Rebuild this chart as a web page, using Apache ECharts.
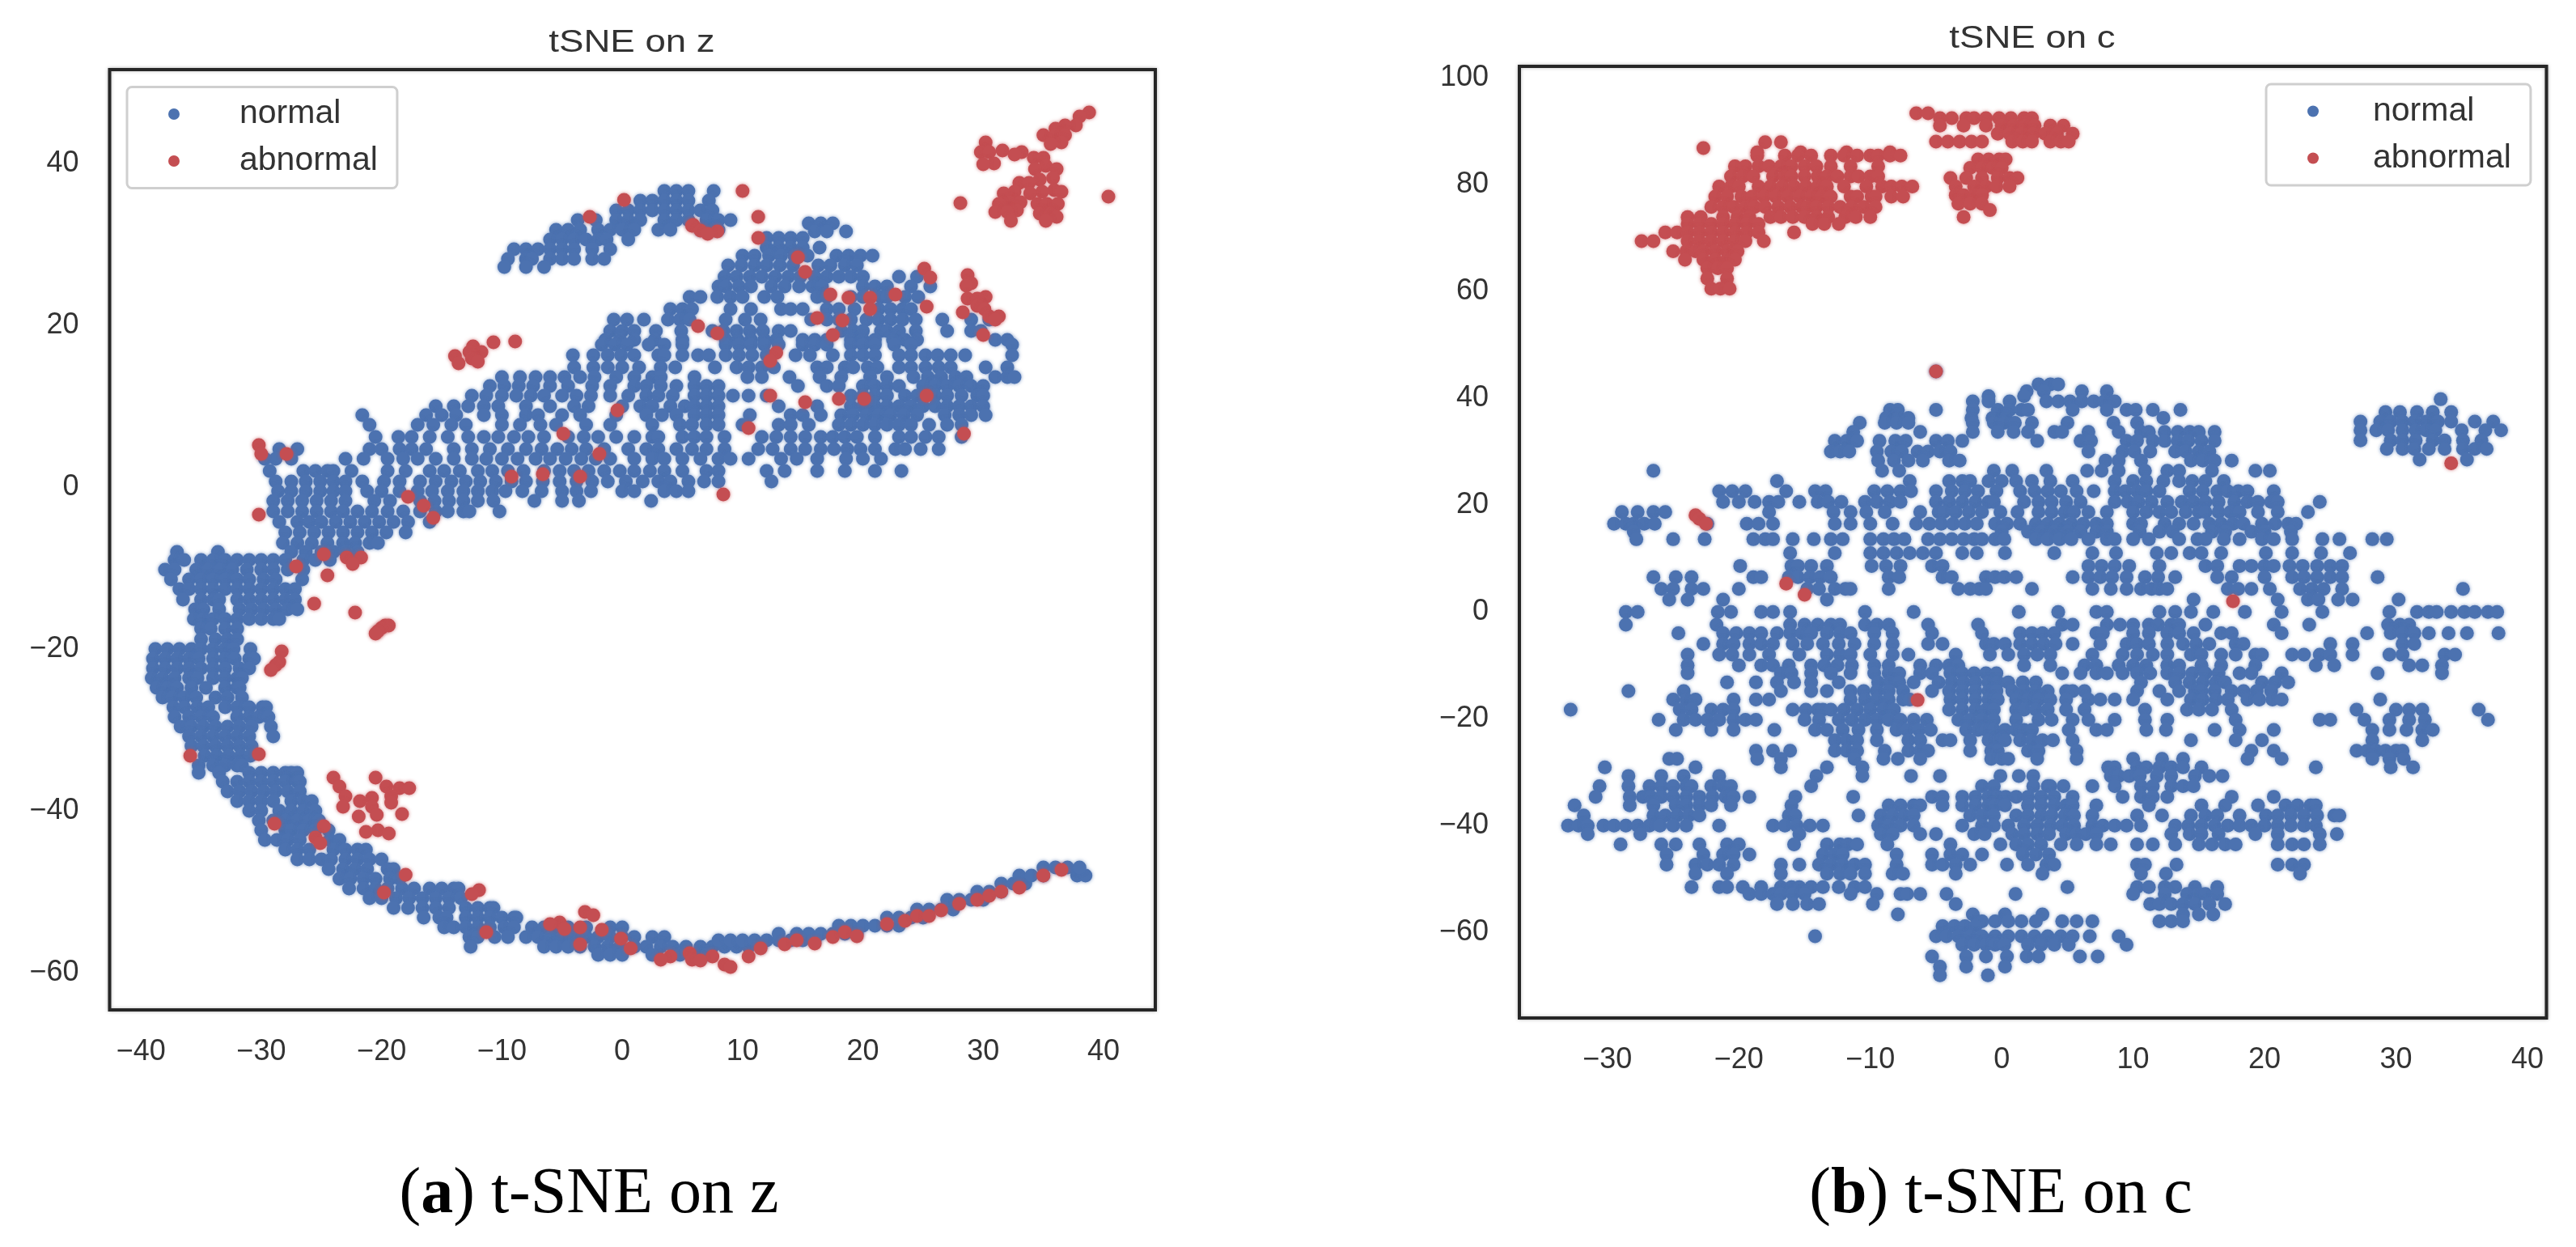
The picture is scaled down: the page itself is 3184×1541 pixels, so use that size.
<!DOCTYPE html>
<html>
<head>
<meta charset="utf-8">
<script src="https://cdn.jsdelivr.net/npm/echarts@6/dist/echarts.min.js"></script>
<style>html,body{margin:0;padding:0;background:#fff}#c{width:3184px;height:1541px}</style>
</head>
<body>
<div id="c"></div>
<script>
const seriesNames = ['normal', 'abnormal'];
const zXTicks = [-40, -30, -20, -10, 0, 10, 20, 30, 40];
const zYTicks = [-60, -40, -20, 0, 20, 40];
const cXTicks = [-30, -20, -10, 0, 10, 20, 30, 40];
const cYTicks = [-60, -40, -20, 0, 20, 40, 60, 80, 100];

// Each row: the y value first, then the x values of the points sitting at that y.
const zNormalRows = [
[36.6,3.5,4.5,5.5,7.6],[35.4,1.5,2.5,3.5,4.5,5.5,7.2],[34.2,-0.5,0.5,1.5,2.5,3.5,4.5,5.5,6.5,7.5],
[33,-3.7,-2.2,-0.5,0.5,1.5,3.5,4.5,5.5,7,8,9],[31.8,-5.5,-4.5,-3.5,-2,-1,0,1,3,4,6.5,7.5,8],
[30.6,-6,-5,-4,-3,-2,-1.3,0.5],[29.4,-9,-8,-7,-6,-5,-4,-2.5,-1],[28.2,-9.5,-8,-7.5,-6,-5,-4,-2.5,-1.5],[27.2,-9.8,-8,-6.5],
[32.6,15.5,16.5,17.5],[31.6,16,17,18.6],[30.8,12,13,14,15],[29.6,12,13,14,15,16.4],
[28.6,10,11,12.2,13.2,14.3,15.4,17.8,18.8,19.8,20.8],[27.4,8.8,9.9,11,12,13.1,14.2,16.3,17.3,18.5,19.5],
[26,8.5,9.5,10.6,11.6,12.7,13.8,14.8,16,17,18,19,20,23,24.5],[24.8,8,8.6,9.7,10.7,12.4,13.5,14.7,15.8,16.6,20,21,22,24,25.6],
[23.5,5.6,6.5,7.9,9,10,11.8,12.9,16.2,17,19,20,21.5,22,23.5,24.6],[22,4,5,5.8,9,10.7,13.2,14,15,17,18,19.3,21.3,22.3,23.3,24],
[20.7,-0.7,0.4,1.8,3.8,4.8,5.6,8.6,10.2,11.5,15.7,17,18,19,20.3,21.3,22.3,23.3,24.4,26.6,29,30.5],
[19.3,-1,0,1,2.8,4.9,7.5,8.4,9.5,10.6,11.7,13,14,18.2,19.2,20,21.5,22,23,24.4,27,29,29.8],
[18.2,-1.4,-0.2,1,2.7,5,8.6,9.6,10.7,11.8,12.8,15,16,17,19,20,21,22.5,23.5,24.5,31,32],
[17.6,-1.7,-0.6,0.4,2.2,3.5,5,8.6,9.7,10.7,11.8,13,15,16,17,19,20,21,22.6,24,32.4],
[16.3,-4.1,-2.4,-1.2,-0.1,1,3,3.5,5,6.3,7.2,8.6,9.7,10.8,12,14.4,15.6,17.5,19,20,21,23,24,25.2,26.2,27.3,28.5,32.4],
[14.8,-4,-2.4,-1.2,0,1.4,3.2,4.4,7.7,9.5,10.5,11.6,12.6,16.2,17,18.5,19.2,20.4,21.2,23,24,25.2,26.3,27.3,30.2,32],
[13.6,-10,-8.5,-7.2,-6,-4.8,-3.5,-2.3,-0.5,1,2.5,3.2,6,10.4,11.6,13.9,16.4,18.2,20.6,22,24.2,25.4,26.5,27.7,28.6,31,32,32.6],
[12.5,-11,-9.8,-8.6,-7.4,-6,-4.5,-2.5,-1,1,2,3.2,4.5,6,7,8,14.6,17,18,20,21,22,23,25,26,27,28,29,30],
[11.3,-12.5,-11.3,-10,-8.8,-7.6,-6.5,-5,-3.8,-2.6,-1,0.5,2,3,4.2,6,7,8,9.2,10.5,12,19,20,21,22,23.5,24.5,26,27,28.2,29.5,30],
[10,-15.5,-14,-12.8,-11.5,-10.3,-8,-6,-4,-2.8,0,1.5,2.5,4,5.2,6,7,8,13,16.2,19,20,21,22,23,24,25,26,27,28,29,30],
[8.9,-21.6,-16.3,-15,-13.8,-11.5,-10,-8,-7,-5,-3.5,-0.5,2,3.3,4.5,6,7,8,10.6,14,15,16.5,18.2,19.2,20.3,21.3,22.3,23.4,24.5,26.8,28,29,30.2],
[7.7,-21,-17,-15.7,-14.2,-13,-10,-8.5,-6.8,-5.5,-3,-1,2.5,4.8,5.8,7,8,10,13,14,15.5,18,19,20,21,22,23,24,25.5,27,28.2],
[6.2,-20.5,-18.6,-17.5,-16,-14.5,-12.8,-11.5,-10.3,-9,-7.8,-6.5,-4.5,-3.2,-2,-0.5,1,2.5,3,5,6,7,8.5,11.6,12.8,14,15.2,16.5,17.5,18.5,19.5,21,23,24,25.2,26.3,28.2],
[4.7,-28.5,-27,-21,-20,-18.5,-17.5,-16.3,-14,-12.5,-11,-9.5,-8,-6.7,-5.4,-4.2,-3,-1.5,0.5,2,3,4.5,5.8,7,8.5,11.3,12.5,14,15.2,16.5,17.6,18.7,19.8,21,22.7,23.5,24.8,26.3],
[3.5,-29.7,-28.8,-27.5,-23,-21.5,-19.5,-18.2,-17,-15.5,-14,-12.5,-11.3,-10,-8.7,-7.2,-6,-4.7,-3.4,-2.2,-1,1,2.5,3.5,5,6.5,8,9,10.5,13.2,14.5,16.2,18.6,20,21.5],
[2,-29.3,-26.5,-25.5,-24.5,-24,-22.5,-19.5,-18,-16,-14.8,-13.5,-12,-10.8,-9.5,-8.2,-6.5,-5.2,-4,-2.8,-1.5,-0.2,1,2.3,3.5,5,7,8,12,13.5,16.2,18.5,21,23.2],
[0.7,-28.8,-27.5,-26.3,-25.1,-24,-23,-21.6,-19.8,-18.5,-16.8,-15.5,-14.2,-13,-11.8,-10.5,-9.2,-8,-6.6,-5.2,-3.8,-2.5,-1.2,0.3,1.7,3,4,5.5,6.8,8,12.4],
[-0.5,-28.6,-27.5,-26.3,-25.1,-24,-23,-21.2,-20,-18.5,-17,-15.8,-14.5,-13.2,-12,-10.8,-9.7,-8.3,-6.7,-5,-3.8,-2.6,0,1,3.5,4.5,5.5],
[-1.7,-29,-27.8,-26.6,-25.4,-24.2,-23,-20.6,-19.3,-16.8,-15.6,-14.4,-13.2,-12,-10.7,-7.3,-5,-3.6,2.4],
[-3,-29,-27.8,-26.6,-25.4,-24.2,-23.2,-22,-20.8,-19.5,-18.2,-16.8,-15.5,-14.5,-13.2,-12.7,-10.2],
[-4.3,-28.5,-27,-26,-25,-23.8,-22.6,-21.4,-20.2,-19,-17.8,-16],[-5.6,-28,-26.8,-25.6,-24.4,-23.2,-22,-20.8,-19.6,-18],
[-6.9,-28.2,-27,-25.8,-24.5,-23.2,-22.2,-21,-20.3],[-8,-37,-33.6,-27.5,-26.3,-25,-24,-23,-22],
[-9,-37.2,-36.4,-35,-34,-33,-32,-31,-30,-29,-28,-26.5,-25.5,-24.3],[-10.2,-38,-37.2,-35.4,-34.4,-33.4,-32.4,-31.2,-30,-29,-27.8,-26.5],
[-11.4,-37.5,-36,-35,-34,-33,-32,-31,-29.8,-28.8,-26.6],[-12.6,-36.8,-36,-35,-34,-33,-32,-31,-30,-29,-28,-27.2],
[-13.9,-36.5,-35,-34,-33.5,-32,-31,-30,-29,-28,-27.2],[-15.1,-35.5,-34.8,-33.5,-31.8,-30.8,-29.8,-28.8,-27.8,-27],
[-16.3,-35.6,-34.8,-34,-33,-32,-31,-30,-29,-28.5],[-17.5,-35,-34.2,-33,-32],[-18.8,-35,-33.8,-32.8,-32],
[-20,-38.8,-37.8,-36.8,-35.8,-35,-34,-33,-32.3,-30.9],[-21.2,-39,-38,-37,-36,-35.2,-34,-33,-32.2,-31,-30.6],
[-22.4,-39,-38,-37,-36,-35,-34,-33,-31.8,-31],[-23.6,-39.1,-38.2,-37.2,-36,-35.3,-34,-33,-32,-31.6],
[-24.8,-38.7,-37.8,-37,-35.8,-34.6,-33,-32,-31.8],[-26,-38.2,-37.4,-36.4,-35.4,-33.8,-32.8,-31.6],
[-27.2,-37.3,-36.4,-35.3,-34.4,-33,-32,-31,-29.9,-29.6],[-28.4,-37.2,-36,-35,-34,-32,-31,-30.2,-29.4],
[-29.6,-36.7,-35.8,-34.8,-33.8,-32.8,-31.8,-30.8,-29.2],[-30.8,-36,-35,-34,-33,-32,-31,-29],[-32,-35.8,-34.8,-33.8,-32.8,-31.8,-30.8],
[-33.2,-34.7,-33.7,-32.7,-31.7,-30.9],[-34.4,-35.2,-34,-33,-32,-31.6],[-35.3,-35.2,-33.5,-31,-30,-29,-28,-27.5,-27],
[-36.4,-33.2,-32,-31,-30,-29,-28,-27,-26.8],[-37.6,-32.8,-31.8,-30.8,-29.8,-28.8,-27.8,-26.8],[-38.8,-32,-31,-30,-29,-27.5,-26.5,-25.8],
[-40,-31,-30,-28.5,-27.5,-26.5,-25.5],[-41.2,-30.2,-29,-28,-27,-26,-25.2],[-42.4,-30,-28,-27.5,-26.5,-25.5,-24.4],
[-43.6,-29.7,-28.7,-27.8,-26.8,-24.3,-23.5],[-44.8,-28,-27,-26,-24,-23,-22,-21.3],[-46,-27,-26,-25,-24.2,-23,-22,-21,-20],
[-47.2,-24.4,-23.2,-22.2,-21.2,-19.5,-19],[-48.4,-23.5,-22.6,-21.5,-20.5,-19.3,-18.5],
[-49.6,-22.7,-21.5,-20.5,-19.5,-18.3,-17.3,-16,-15,-14,-13.6],[-50.8,-21,-20,-18.8,-17.7,-16.6,-15.5,-14.4,-13.4],
[-52,-19,-17.8,-16.6,-15.5,-14.4,-13,-12,-11,-10.7],[-53.2,-16.5,-15.2,-14.6,-13,-12,-11,-10,-9,-8.8],
[-54.4,-14.8,-14,-13,-12,-11,-9.8,-9,-7.5,-6.5,-5.5,-4.5,-3,-1,0],
[-55.6,-12.7,-12,-10.6,-9.5,-8,-7,-6,-5,-4,-3,-2,-1,0,1,2.5,3.5],
[-56.8,-12.6,-6.5,-5.5,-4.5,-3.5,-2.3,-1.2,-0.2,1,2,3.2,4.2,5.3,6.5,7.5,8.5,9.5,10.5,11.5],[-57.8,-2,-1,0,2.5,4.8,6,7],
[-56,8,9,10,11,12,13,14,15,16],[-55.2,13,14.5,15.5,16.5,17.5,18.5,19.5],[-54.2,18,19,20,21,22,23],[-53.2,22,23,24,25],
[-52.2,24.5,25.5,26.5,27.5],[-51,27,28,29,30],[-50,29.5,30.5,31.5],[-49,31.5,32.5,33.5],[-48,33,34,35,37.8,38.5],[-47,35,36,37,38]
];

const zAbnormalRows = [
[46.3,38.8],[45.8,38],[44.7,37.7,36.8],[44.3,36],[43.5,35,36,36.8],[42.6,30.2,36.5],[42.4,35.6],[41.6,31.6],[41.4,29.8,30.5,33.2],[41.1,32.6],
[40.7,34.2,35],[40,30.9],[39.9,30],[39.7,35.2],[39.3,34.3,36.1],[38.2,35.8],[38,34.7],[37.6,33,33.8],[36.7,35.9],[36.6,10],[36.5,32.6,34.9,36.5],
[36.3,31.7,33.9],[35.9,40.4],[35.5,0.15],[35.2,32.2,33.1],[35.1,28.1],[35,31.3,34.5,35.3,36.2],[34.2,32.8],[34,31,32],[33.8,34.7,35.6],[33.4,-2.7,11.3,36.1],
[32.9,32.3,35.2],[32.4,5.9],[32.3,5.8],[31.7,6.5],[31.6,7.9],[31.3,7.1],[30.8,11.3],[28.4,14.6],[27,25.1],[26.6,15.2],[26.2,28.7],[25.9,25.6],[25.2,29],[24.9,28.6],
[23.8,17.3,22.7],[23.5,30.2],[23.4,18.8,20.6],[23.3,28.7,29.5],[22.4,29.5],[22.3,25.3],[22,20.6,30.1],[21.6,28.3],[21.1,30.5,31.3],[20.9,16.2],[20.7,31],[20.6,18.3],
[19.9,6.3],[19,7.9],[18.8,17.5,30],[18,-8.9],[17.9,-10.7],[17.4,-12.4],[16.7,-11.7,-12.7],[16.6,12.8],[16.2,-13.9],[15.9,-12.5],[15.6,12.3],[15.5,-12],[15.3,-13.6],
[11.3,12.3,25.3],[10.9,18,20.1],[10.5,15.2],[9.5,-0.4],[7.3,10.5],[6.6,-4.9,28.4],[5.2,-30.2],[4.1,-30,-27.9,-1.9],[1.6,-6.6],[1.3,-9.2,-3.5],[-0.9,8.4],[-1.2,-17.8],[-2.3,-16.5],
[-3.4,-30.2],[-3.8,-15.7],[-8.3,-24.8],[-8.7,-22.9,-21.7],[-9.5,-22.4],[-9.8,-27.1],[-10.9,-24.5],[-14.4,-25.6],[-15.5,-22.2],[-17.1,-19.7,-19.4],[-17.4,-20],[-17.8,-20.3],[-18.1,-20.5],
[-20.3,-28.3],[-21.6,-28.5],[-22,-28.8],[-22.6,-29.2],[-33,-30.2],[-33.2,-35.9],[-35.9,-24,-20.5],[-37,-23.5,-19.6],[-37.2,-18.5,-17.7],[-38.2,-23,-19.2],[-38.4,-20.8],[-38.8,-21.8],
[-39,-19.2],[-39.5,-23.2,-20.8],[-40.4,-18.3],[-40.5,-20.4],[-40.7,-21.9],[-41.6,-28.9],[-41.9,-24.8],[-42.4,-20.3],[-42.6,-21.3],[-42.8,-19.4],[-43.3,-25.5],[-44,-25.1],
[-47.9,-18],[-49.8,-11.9],[-50.1,-19.8],[-50.3,-12.5],[-52.5,-3.1],[-52.9,-2.4],[-53.8,-5.2],[-54,-6],[-54.4,-3.5],[-54.6,-4.8],[-54.7,-1.7],[-55,-11.3],[-55.8,-0.1],[-56.5,-3.5],
[-57,0.7],[-57.6,5.6],[-58,4,7.5,10.5],[-58.4,3.2,5.8],[-58.5,6.5],[-59,8.5],[-59.3,9],[-57,11.5],[-56.5,13.5],[-56,14.5],[-56.4,16],[-55.6,17.5],[-55,18.5],[-55.5,19.5],[-54,22],
[-53.6,23.5],[-53,24.5,25.5],[-52.3,26.5],[-51.5,28],[-51,29.5],[-50.5,30.5],[-50,31.5],[-49.5,33],[-48,35],[-47.3,36.5]
];

const cNormalRows = [
[45,-5],[42.6,2.8,3.7,4.3],[41.3,1.9,3.2,6.1,8],[40.4,-1,1.7],[39.4,-2.2,-1,0.6,3.4,4.3,5.2,6.1,7,7.8,8.6],
[37.8,-8.5,-7.9,-5,-2.2,-0.3,0.6,1.5,2,5.4,8,9.5,10.2,11.5,13.6],[36.3,-8.8,-7.9,-7.1,-2.3,-0.7,0.3,12.3],
[35.4,-10.8,-8.9,-8,-7.1,-2.2,-0.6,0.2,1,2.3,5,8.5,10.3],[33.7,-11.3,-6.2,-2.2,-0.3,0.9,2,4,4.6,6.6,8.9,10.6,11.2,12.4,13.4,14.3,15,16.2],
[32,-12.7,-11.8,-11,-9.3,-8.1,-7.3,-5,-4.1,-3,2.7,6,6.8,9.5,10.3,11.5,12.4,13.4,14.2,15.2,16.2],
[30,-13,-12.3,-11.6,-9.5,-8.4,-7.6,-6.4,-5.6,-4.7,-3.9,6.6,9.2,10.1,11.3,13.2,14,15,15.8],
[28.3,-9.4,-8.2,-7.1,-6,-4,-3.2,7.9,8.9,10.6,14.4,15.3,16.2,17.5],
[26.4,-26.5,-9.1,-7.8,-0.6,0.8,3.4,6.5,7.6,8.9,10.9,12.6,13.5,16,19.3,20.4],
[24.5,-17.1,-7,-4,-3,-2.4,-1,0,1.1,2.3,3.7,5.4,8.6,10,11,12.3,13.5,14.5,15.5,16.9],
[22.6,-21.5,-20.5,-19.5,-16.4,-14.2,-13.4,-9.7,-8.7,-7.7,-6.9,-5,-3.8,-2.8,-1.8,-0.4,1.4,2.5,3.5,4.5,5.7,7,8.6,9.4,10.3,11,12,14.3,15.3,16.4,17.2,18,18.7,20.7],
[20.6,-21.2,-20,-18.8,-17.7,-17,-15.4,-14,-13.2,-12.2,-10.4,-9.5,-8.5,-7.7,-5,-4,-3,-2,-1,-0.6,1.7,2.8,3.8,4.9,6,8.6,9.6,10.4,11.4,12.6,13.7,14.6,15.5,16.5,17.7,18.7,19.5,20.5,21,24.2],
[18.7,-28.9,-27.7,-26.5,-25.6,-17.7,-12.8,-11.5,-10.3,-8.9,-6.2,-4.8,-4.4,-3.5,-2.5,-1.5,-0.1,1.2,2.8,3.8,4.8,5.5,6.6,8,10,11,12,12.9,14,15,15.5,16.5,17.4,18.1,19.5,21,23.3],
[16.5,-29.5,-28.6,-28,-27.2,-26.4,-22.4,-19.4,-18.5,-17.4,-12.7,-11.5,-10,-8.3,-6.5,-5.5,-4.6,-3.7,-2.8,-1.9,-0.5,0.4,1.4,2.6,3.5,4.4,5.3,6.2,7.2,8,10,10.6,12.4,13.5,14.6,15.8,16.7,17.6,18.4,19.8,20.8,21.8,22.4],
[15,-28,0,2,3,4,5,6,7.2,8,10.5,12,13,16,17,19,20,22],
[13.6,-27.8,-25,-22.6,-18.9,-18,-17.4,-15.9,-14.3,-13,-12.1,-10,-9,-8.2,-7.4,-5.6,-4.7,-3.8,-2.9,-2.1,-1.5,-0.5,0.2,2.6,3.5,4.4,5.3,6.6,8,8.6,10,11.2,13.5,14.9,15.5,16.9,18.1,19.8,20.7,22.1,24.4,25.7,28.2,29.3],
[11,-16.1,-12.7,-10,-9,-8,-7,-6,-5,-3,-1.9,0.25,4,6.9,8.7,11.8,12.9,14.3,15.2,16.7,20.1,22.1,24.3,26.5],
[8.6,-19.9,-16,-15.5,-14.5,-13.3,-9.9,-8.8,-7.7,-5.3,-4.5,6.6,7.6,8.6,9.7,12,15.5,16.4,18.1,19,20,20.7,21.9,22.9,24,25,25.9],
[6.5,-26.5,-24.8,-23.6,-18.9,-18.3,-16.2,-15.5,-14.6,-13.8,-13,-8.6,-7.8,-4.5,-3.8,-1.2,-0.5,0.2,1.1,5.4,6.6,7.5,8.4,9.5,10.9,11.9,13.2,16.4,17.5,20,22.1,23,24,25,25.9,28.6],
[4.3,-25.9,-25,-23.6,-22.7,-20,-14.8,-13.9,-12.7,-11.9,-11.5,-8.6,-3.3,-2.4,-1.7,-1.2,2.3,6.9,8.3,9.5,10.6,11.4,12,12.6,17.2,18,19,20.4,22.7,23.6,24.5,25.9,35.1],
[2.3,-25.3,-23.9,-21.2,-13.3,14.6,21,23.3,24.1,25.6,26.7,30.2],
[37.4,32.8,34.2,29.2,30.3,31.6],[39.8,33.4],[35.6,27.3,28.8,29.6,30.5,31.4,32.3,33.2,34.2,36,37.4],[34,27.3,28.5,29.4,30.5,31.5,32.3,33,35,36.8,38],
[32.1,27.3,29.6,30.5,31.5,32.8,33.7,35.1,36.5],[30.5,29.3,30.5,31.4,32.5,33.7,35.1,36,36.9],[28.5,31.8,35.4],
[0,-28.6,-27.7,-21.6,-20.6,-18.3,-17.4,-16.1,-10.4,-6.7,1.3,4.3,7.2,8,12,13.2,14.4,16.1,18.5,21.3,24.4,29.5,31.6,32.5,33.1,34.2,35.2,36,37,37.7],
[-2.4,-28.6,-21.7,-16.1,-15,-14,-13,-12.3,-10.4,-9.5,-8.6,-5.6,-1.8,4.6,5.4,8,9,10,11.2,11.9,12.9,13.5,15.5,20.7,23.4,29.4,30.3,31],
[-4,-24.6,-21.2,-20.2,-19.2,-18.3,-17.1,-16.1,-15.2,-14.5,-13.3,-12.3,-11.5,-9.7,-8.3,-5.3,-1.5,1.4,2.3,3.1,4,7.2,7.7,10,11.2,12.6,13.5,14.6,16.7,17.5,21.3,27.8,29.6,30.5,31.4,32.5,34,35.4,37.8],
[-6,-22.7,-21.2,-20.4,-19.2,-18.3,-17.4,-15.9,-14.8,-13.6,-12.4,-11.2,-9.7,-8.3,-5.6,-4.5,-1.2,-0.6,0.25,1.4,2.3,3.2,4.1,5.4,7.5,9.5,10.3,11.2,12.6,13.8,14.8,15.8,17.8,18.4,25,26.7,30.5,31.4],
[-8,-23.9,-21.5,-20.5,-19.2,-17.7,-15.4,-13.3,-12.3,-11.5,-10,-8.3,-7.1,-3.5,-0.9,0.5,1.7,2.7,3.7,6.9,9.2,10.3,11.5,12.6,14.4,15.2,16.7,17.8,19.3,19.8,22.1,23,24.2,25,26.7,29.5,30.5,33.7,34.5],
[-10,-23.9,-20,-18.3,-17.4,-16.2,-14.5,-13.5,-12.5,-11.4,-9.7,-8.6,-6.2,-5,-4,-3.3,1.7,3.7,6.3,7.2,8.9,10,11,12.6,13.5,15.2,16.7,19.3,23.9,25.3,31,32,33.5],
[-11.5,-23.9,-16.8,-16,-14.5,-13,-11.5,-9.7,-8.6,-7.8,-6.2,-5.3,-3.9,-3,-2.1,-1.2,-0.4,4.6,6,7.2,8,9.2,10.3,11.3,12.6,13.5,14.5,15.5,16.5,18.1,19,21.3,28.6,33.5],
[-13.2,-20.9,-18.7,-17.1,-15.8,-14.5,-12.4,-9.4,-8.5,-7.8,-6.7,-4.8,-3.8,-2.9,-2,-1,-0.3,0.5,1.6,2.6,10.6,13.2,14.3,15.3,16.3,17,19.8,20.8,21.8],
[-14.8,-28.4,-24.2,-16.8,-14.5,-13.3,-11.5,-10.5,-9.5,-8.6,-7.5,-5.3,-4,-3,-2,-1,-0.4,0.8,1.7,2.6,3.5,4.9,5.4,6.3,10.3,12,13.5,14.7,15.2,16.2,17.5,18.4,19.4,20.5],
[-16.4,-25,-24,-23.3,-20.4,-18.7,-17.7,-11.5,-10.4,-9.5,-8.6,-7.5,-7,-3.9,-3,-2,-1,-0.3,1.1,2,2.8,3.7,4.9,6.6,7.5,8.6,10,12.6,14.4,15.3,16.3,17.2,18.7,19.6,20.6,21.3,28.8],
[-18.3,-32.8,-24.5,-23.6,-22.1,-21.2,-20.4,-15.9,-14.9,-14,-13.6,-13,-12,-11,-10,-9,-8.2,-4,-3,-2,-1.2,-0.6,1.1,1.7,2.6,3.5,4.9,6.3,10.9,14.1,15,16,17.5,27,30,31,32,36.3],
[-20.2,-26.1,-24.2,-23.3,-22.4,-21.5,-20.4,-19.5,-18.7,-15,-13.9,-12.4,-11.4,-10.4,-9.5,-8.6,-7.7,-6.7,-5.7,-3.3,-2.4,-1.5,-0.6,1.1,2.8,3.8,5.4,6.6,8.6,10.9,12.6,17.8,24.2,25,27.6,29.5,31,32.2,37],
[-22.1,-24.8,-22.1,-20.4,-17.3,-14.2,-13.3,-12.1,-10.9,-9.5,-8,-7.2,-6.3,-5.4,-2.7,-1.8,-1.2,-0.6,0.25,1.1,1.7,2.3,5.1,7.2,8,11,12.5,16.2,18.1,20.7,28.2,29.5,30.8,32,32.8],
[-24,-12.7,-11.8,-11,-9.5,-7.1,-6.2,-4.5,-3.9,-2.4,-1,-0.2,0.25,1.4,2.3,3.1,3.9,5.4,14.4,17.8,19.8,28.2,32],
[-26,-18.7,-17.4,-16.1,-12.7,-11.8,-11,-8.9,-7.1,-6.2,-5.6,-2.4,-0.8,-0.3,2,2.8,5.7,19,20.7,27,27.8,28.5,29.2,30,30.5],
[-27.5,-25.3,-24.7,-18.6,-16.8,-11.2,-9,-7.9,-6.2,-0.8,0,0.5,2.7,5.7,10,12.2,13.8,18.7,21.3,28.2,29.5,30.6],
[-29.1,-30.2,-23.3,-16.8,-13.3,-10.6,8.1,8.6,10.3,11,12,12.9,13.8,15.2,23.9,29.6,31.3],
[-30.7,-28.4,-25.9,-24.2,-21.5,-14.1,-10.6,-6.9,-4.7,-0.1,1.3,2.4,8.3,8.9,9.7,10.5,11.8,12.9,14.7,15.8,16.8],
[-32.6,-30.6,-28.4,-26.8,-25.9,-25,-24,-23.6,-22.1,-21.2,-20.6,-14.5,-1.5,-0.6,2.4,3.5,3.7,4.7,6.9,8.6,10.6,11.5,12.9,13.8,14.6],
[-34.6,-30.9,-28.3,-27.3,-26.7,-25.9,-25,-24,-23,-22,-21,-20.4,-19.2,-15.7,-11.3,-5.3,-4.5,-3,-2,-1,-0.3,0.3,1.1,2,3,4,5.4,9.2,10.6,11.5,12.6,17.5,20.7],
[-36.2,-32.5,-28.3,-26.5,-24.8,-24,-23,-22.1,-20.6,-16,-8.6,-7.7,-6.7,-6.2,-4.5,-3,-2,-1,-0.5,0.25,2,3,4,4.9,5.4,7.2,11.2,15.2,17,19.5,21.6,22.5,23.5,23.9],
[-38.1,-31.8,-26.5,-25.6,-24.7,-23.8,-23,-16.2,-15.7,-10.9,-9.2,-8.3,-7.4,-6.7,-2.4,-1.5,-0.6,1.1,2,3,3.8,4.8,5.5,6.9,10.3,12.2,14.4,15.5,16.4,18.1,20.1,21,22,23,24,25.3,25.7],
[-40,-33,-32.2,-31.5,-30.3,-29.5,-28.6,-27.7,-26.8,-26,-25,-24,-21.5,-17.4,-16.5,-15.6,-14.6,-13.6,-9.4,-8.6,-7.7,-6.7,-3,-1.5,-0.6,0.5,1.7,2.7,3.7,4.6,5.5,6.9,7.7,8.6,9.5,10.6,13.2,14.2,15.2,16.2,17.2,18.1,19,20,21,22,23,23.9],
[-41.6,-31.5,-27.5,-15.4,-9.2,-8.3,-6.2,-5,-2.1,-1.3,0.8,1.7,2.7,3.6,4.9,5.7,6.4,7.2,12.9,14.3,15.2,16.5,19.3,21,24.2,25.5],
[-43.5,-29,-25.9,-24.8,-23,-20.9,-20,-15.8,-13.3,-12.3,-11.7,-11,-8.7,-3.9,-0.1,1.1,2,3,4.5,5.7,7.2,8.3,10.3,11.5,13.2,15,16,17,17.8,21,22.1,23,24.2],
[-45.4,-25.5,-22.7,-21.2,-20.4,-19.2,-13.6,-12.7,-12.1,-8,-5.3,-3.9,-3,-1.5,1.6,2.6,3.6],
[-47.3,-25.5,-23.3,-22.4,-21.5,-20.4,-16.8,-15.4,-13.9,-13,-12.1,-11.2,-10.4,-8,-5.3,-4.5,-3.5,-2.4,0.4,2,3.4,4,10.3,10.9,13.3,21,22.1,23],
[-49,-23.3,-20.9,-16.8,-13.3,-12.3,-11.5,-10.4,-8.3,-7.5,-3.5,3.1,10.6,12.5,22.7],
[-51.5,-23.6,-21.5,-20.9,-19.7,-18.3,-16.8,-16,-15.4,-14.5,-13.6,-12.4,-11.2,-10.4,5,10.3,11.2,12.4,13.2,14.7,16.4],
[-52.8,-19.2,-18.3,-17.4,-16.8,-15.9,-15,-11.5,-9.5,-7.7,-7.2,-6.2,-4.2,1.05,10,12.4,14.1,15,15.5,16.4],
[-54.7,-17.1,-15.9,-14.8,-13.9,-9.8,-3.5,11.3,12,12.9,13.8,14.7,15.8,17],[-56.6,-7.9,-2.2,0.25,3.1,13.8,15,16.1],
[-57.9,-1.5,-0.5,0.5,1.5,2.6,4.6,5.7,6.9,12,12.9,13.8],[-58.8,-4.5,-3.6,-2.8,-2],
[-60.7,-14.2,-5,-4.2,-3.3,-2.4,-1.5,-0.5,0.5,1.5,2.5,3.5,4.5,5.4,6.7,8.9],[-62.3,-3,-2.1,-1.2,-0.5,0.2,2,3,4,5.1,9.5],
[-64.5,-5.3,-2.7,-1.2,0.4,1.9,2.8,5.95,7.3],[-66.4,-4.7,-2.7,0.25],[-68,-4.7,-1.05]
];

const cAbnormalRows = [
[93.3,-6.5,-5.6],[92.4,-4.7,-3.8,-2.7,-2.1,-1.2,-0.2,0.7,1.7,2.3],[91,-4.7,-2.9,-1.2,0,0.9,1.8,2.5,3.7,4.7],
[89.5,-0.3,0.6,1.5,2.4,3.3,4.2,5.4],[88,-5,-4.1,-3.2,-2.3,-1.5,0.8,1.6,2.3,3.7,4.5,5.1],
[87.9,-18,-16.8],[86.8,-22.7],[86,-18.6,-15.3,-11.8,-8.5],
[85.4,-18.6,-16.5,-15.5,-14.5,-13,-12,-11,-10,-9.4,-8.5,-7.7],
[83.4,-20.3,-19.5,-18.5,-17.7,-16.8,-16,-15,-14.1,-13,-11.5,-9.4],
[81.5,-20.6,-19.7,-18.9,-17.4,-16.5,-16.5,-16,-15,-14,-13.3,-12.5,-11.5,-10.9,-10,-9.4],
[79.6,-21.5,-20.6,-20,-18.5,-17.6,-16.7,-15.8,-14.9,-14,-13.3,-12,-10.3,-9.1,-8.4,-7.6,-6.8],
[77.7,-21.8,-20.9,-19.8,-19,-18.1,-17.2,-16.3,-15.4,-14.5,-13.7,-13,-11.5,-11,-9.9,-9.6,-8.4,-7.5],
[75.8,-22.1,-21.2,-20.4,-19.5,-18.8,-18,-17,-16.1,-15.2,-14.8,-14.1,-13.2,-12.3,-11.4,-10.5,-9.6],
[73.9,-23.9,-22.9,-21.2,-20.1,-19.2,-17.6,-16.8,-15.9,-15,-14.1,-13.2,-11.9,-11.1,-10],
[72.6,-23.9,-23,-22.1,-21.2,-20.3,-19.4,-18.5,-14.4,-13.5,-12.4],
[71,-25.6,-24.7,-23.9,-23,-22.1,-21.2,-20.3,-19.4,-18.5,-15.8],
[69.4,-27.4,-26.5,-23.9,-23,-22.1,-21.2,-20.3,-19.5,-18.1],
[67.5,-25,-24,-23.3,-22.7,-21.8,-20.9,-20.1],[65.9,-24.1,-22.7,-21.8,-20.9,-20.3],[64.3,-22.4,-21.6,-20.9],
[62.4,-22.4,-20.9],[60.5,-22.1,-21.4,-20.7],
[84.7,-1.8,-1,-0.2,0.3],[83.1,-2.4,-1.5,-0.7,0],[81.2,-3.9,-2.7,-1.5,-0.3,0.6,1.2],[79.6,-3.5,-2.1,-1.2,-0.4,0.6],
[78,-3.5,-2.9,-2,-1.5],[76.4,-3.3,-2.4,-1.5],[75.2,-0.9],[73.9,-2.9],
[45,-5],[18.1,-23.3],[17.4,-23],[16.5,-22.5],[5.3,-16.4],[3.2,-15],[2,17.6],[27.8,34.2],[-16.5,-6.4]
];

// Expands rows of [y, x, x, ...] into [x, y] pairs for the scatter series.
const toPoints = rows => rows.flatMap(([y, ...xs]) => xs.map(x => [x, y]));

const BLUE = '#4C72B0', RED = '#C44E52', INK = '#333333';
const SANS = '"Liberation Sans", Arial, sans-serif';
const SERIF = '"Liberation Serif", "Times New Roman", serif';
const minusLabel = v => String(v).replace('-', '\u2212');

const axis = (min, max, ticks, margin) => ({
  type: 'value', min, max,
  splitLine: { show: false }, axisLine: { show: false }, axisTick: { show: false },
  axisLabel: { customValues: ticks, formatter: minusLabel, margin, color: INK, fontFamily: SANS, fontSize: 36 }
});
const panel = (left, top, width, height) => ({
  left, top, width, height, show: true, backgroundColor: '#fff',
  borderColor: '#262626', borderWidth: 4, shadowColor: 'rgba(0,0,0,0.25)', shadowBlur: 4
});
const scatter = (name, idx, rows, color, halo) => ({
  name, type: 'scatter', xAxisIndex: idx, yAxisIndex: idx, symbolSize: 17, animation: false,
  itemStyle: { color, opacity: 1, shadowColor: halo, shadowBlur: 4 }, data: toPoints(rows)
});
// A wide icon box with the dot near its left end leaves a clear column before the label.
const legendIcon = w => 'path://M0 0L0 0M' + w + ' 16L' + w + ' 16M37 8a7 7 0 1 0 14 0a7 7 0 1 0 -14 0Z';
const legend = (left, top, iconWidth, rightPad) => ({
  left, top, orient: 'vertical', data: seriesNames, icon: legendIcon(iconWidth), selectedMode: false,
  itemWidth: iconWidth, itemHeight: 16, itemGap: 17, padding: [13, rightPad, 13, 14],
  borderColor: '#cfcfcf', borderWidth: 3, borderRadius: 6, backgroundColor: '#fff',
  textStyle: { color: INK, fontFamily: SANS, fontSize: 41, lineHeight: 38 }
});
const heading = (text, x, y) => ({
  type: 'text', x, y, scaleX: 1.2, silent: true,
  style: { text, fontFamily: SANS, fontSize: 38, fill: INK, textAlign: 'center', verticalAlign: 'middle' }
});
const caption = (letter, rest, x, y) => ({
  type: 'text', x, y, silent: true,
  style: {
    text: '(' + '{b|' + letter + '}' + ') ' + rest, fontFamily: SERIF, fontSize: 80, fill: '#000',
    textAlign: 'center', verticalAlign: 'middle',
    rich: { b: { fontFamily: SERIF, fontWeight: 'bold', fontSize: 80, fill: '#000' } }
  }
});

const chart = echarts.init(document.getElementById('c'), null, { renderer: 'canvas' });
chart.setOption({
  animation: false,
  backgroundColor: '#fff',
  grid: [panel(135.5, 86, 1292.5, 1162), panel(1878, 82, 1269.5, 1176)],
  xAxis: [
    Object.assign(axis(-42.6, 44.3, zXTicks, 34), { gridIndex: 0 }),
    Object.assign(axis(-36.7, 41.45, cXTicks, 34), { gridIndex: 1 })
  ],
  yAxis: [
    Object.assign(axis(-64.6, 51.6, zYTicks, 38), { gridIndex: 0 }),
    Object.assign(axis(-76, 102.1, cYTicks, 38), { gridIndex: 1 })
  ],
  legend: [legend(157, 107.5, 120, 24), legend(2801, 104, 113, 24)],
  series: [
    scatter(seriesNames[0], 0, zNormalRows, BLUE, 'rgba(76,114,176,0.7)'),
    scatter(seriesNames[1], 0, zAbnormalRows, RED, 'rgba(196,78,82,0.7)'),
    scatter(seriesNames[0], 1, cNormalRows, BLUE, 'rgba(76,114,176,0.7)'),
    scatter(seriesNames[1], 1, cAbnormalRows, RED, 'rgba(196,78,82,0.7)')
  ],
  graphic: [
    heading('tSNE on z', 781, 54),
    heading('tSNE on c', 2512, 49),
    caption('a', 't-SNE on z', 728, 1477),
    caption('b', 't-SNE on c', 2473, 1477)
  ]
});
</script>
</body>
</html>
